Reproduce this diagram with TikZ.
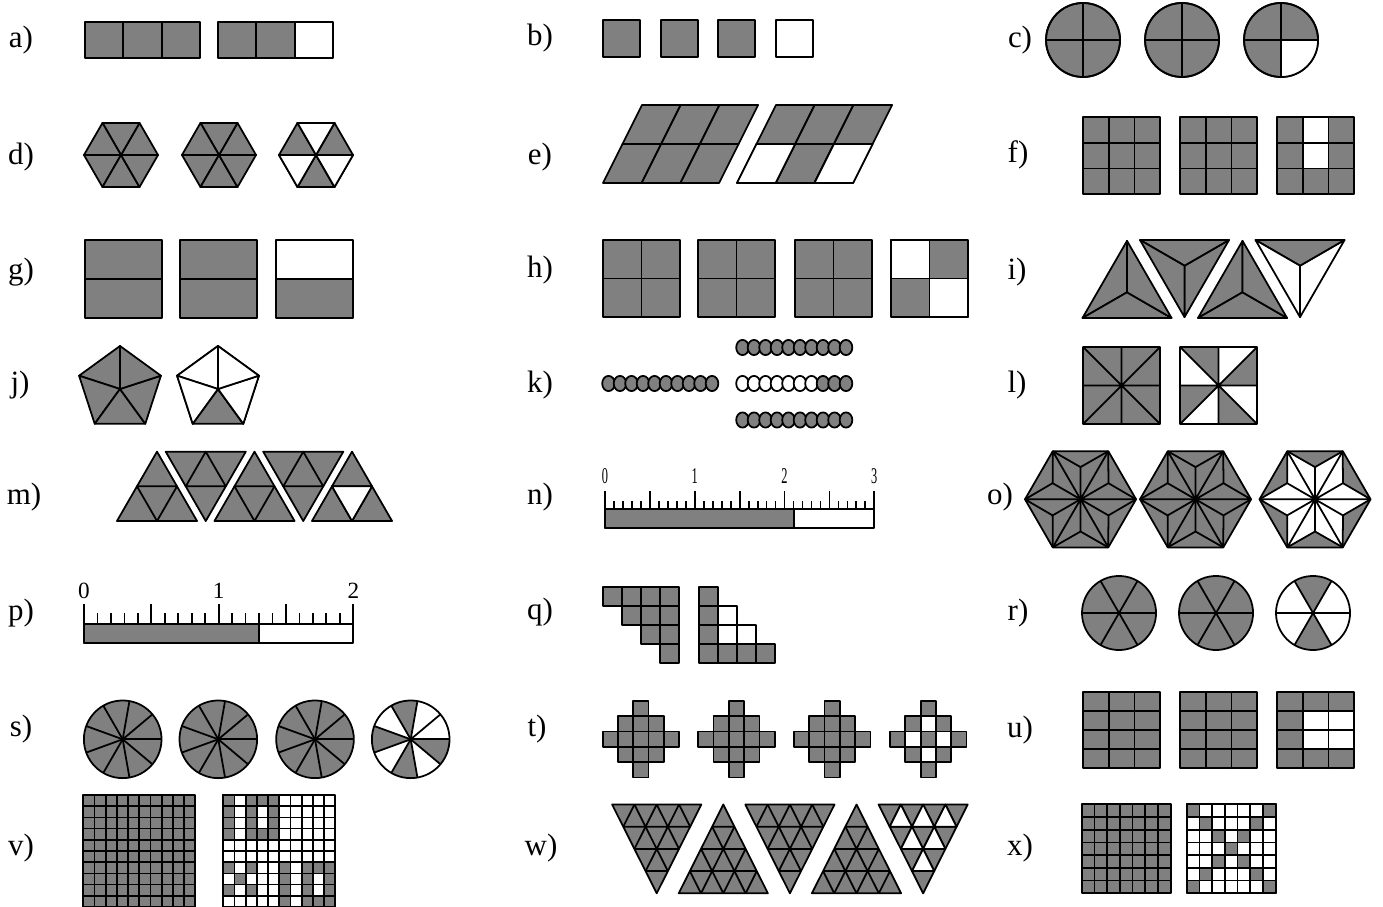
\documentclass[tikz,border=0pt]{standalone}
\usepackage{fontspec}
\setmainfont{Liberation Serif}
\usepackage{tikz}
\usetikzlibrary{calc}
\definecolor{midgray}{RGB}{128,128,128}
\tikzset{
  gr/.style={fill=midgray, draw=black},
  wt/.style={fill=white, draw=black},
  lab/.style={font=\fontsize{8.8}{10}\selectfont, inner sep=0pt},
  num/.style={inner sep=0pt},
}

\begin{document}
\begin{tikzpicture}[x=0.01cm, y=-0.01cm, line width=0.5pt, line join=round]
  \useasboundingbox (0,0) rectangle (1383,907);
  % labels
  \foreach \t/\px/\py in {a/21/40, d/21/157, g/21/272, j/20/385, m/24/497, p/21/613, s/21/729, v/21/848,
      b/540/38, e/540/157, h/540/270, k/540/385, n/540/497, q/540/612, t/537/729, w/541/848,
      c/1020/40, f/1018/155, i/1017/272, l/1017/385, o/1000/497, r/1018/613, u/1020/730, x/1020/848}
    \node[lab] (lab\t) at (\px,\py) {\t)};

  % a)
  \foreach \i in {0,1,2} \filldraw[gr] (85+38.33*\i,22) rectangle ++(38.33,36);
  \foreach \i/\s in {0/gr,1/gr,2/wt} \filldraw[\s] (218+38.33*\i,22) rectangle ++(38.33,36);

  % b)
  \foreach \px/\s in {603/gr,661/gr,718/gr,776/wt} \filldraw[\s] (\px,20) rectangle ++(37,37);

  % c)
  \foreach \cx in {1083,1182,1281} \filldraw[gr] (\cx,40) circle[radius=0.37cm];
  \fill[white] (1281,40) -- ++(0:0.37cm) arc[start angle=0, end angle=-90, radius=0.37cm] -- cycle;
  \foreach \cx in {1083,1182,1281}
    \draw (\cx,40) circle[radius=0.37cm] (\cx-37,40) -- (\cx+37,40) (\cx,3) -- (\cx,77);

  % d)
  \foreach \cx in {121,219,316} \foreach \a in {0,60,...,300}
    \filldraw[gr] (\cx,155) -- +(\a:0.37cm) -- +(\a+60:0.37cm) -- cycle;
  \foreach \a in {60,180,300}
    \filldraw[wt] (316,155) -- +(\a:0.37cm) -- +(\a+60:0.37cm) -- cycle;

  % e)
  \foreach \ox in {603,737} \foreach \i in {0,1,2} \foreach \j in {0,1}
    \filldraw[gr] (\ox+38.7*\i+19.5*\j,183-39*\j) -- ++(38.7,0) -- ++(19.5,-39) -- ++(-38.7,0) -- cycle;
  \foreach \i in {0,2}
    \filldraw[wt] (737+38.7*\i,183) -- ++(38.7,0) -- ++(19.5,-39) -- ++(-38.7,0) -- cycle;

  % f)
  \foreach \ox in {1083,1180,1277} \foreach \i in {0,1,2} \foreach \j in {0,1,2}
    \filldraw[gr] (\ox+25.7*\i,117+25.7*\j) rectangle ++(25.7,25.7);
  \foreach \j in {0,1} \filldraw[wt] (1277+25.7,117+25.7*\j) rectangle ++(25.7,25.7);

  % g)
  \foreach \ox/\s in {85/gr,180/gr,276/wt} {
    \filldraw[\s] (\ox,240) rectangle ++(77,39);
    \filldraw[gr] (\ox,279) rectangle ++(77,39);
  }

  % h)
  \foreach \ox in {603,698,795,891} \foreach \i in {0,1} \foreach \j in {0,1}
    \filldraw[gr] (\ox+38.5*\i,240+38.5*\j) rectangle ++(38.5,38.5);
  \filldraw[wt] (891,240) rectangle ++(38.5,38.5);
  \filldraw[wt] (929.5,278.5) rectangle ++(38.5,38.5);

  % i)
  \foreach \cx/\cy/\r in {1127/292.3/90, 1184.5/265.7/270, 1242.5/292.3/90}
    \foreach \a in {0,120,240}
      \filldraw[gr] (\cx,\cy) -- +(\r+\a:0.514cm) -- +(\r+\a+120:0.514cm) -- cycle;
  \foreach \a/\s in {0/wt,120/gr,240/wt}
    \filldraw[\s] (1300,265.7) -- +(270+\a:0.514cm) -- +(390+\a:0.514cm) -- cycle;

  % j)
  \foreach \cx in {120,218} \foreach \a in {90,162,...,378}
    \filldraw[gr] (\cx,389) -- +(\a:0.43cm) -- +(\a+72:0.43cm) -- cycle;
  \foreach \a in {90,162,306,378}
    \filldraw[wt] (218,389) -- +(\a:0.43cm) -- +(\a+72:0.43cm) -- cycle;

  % k)
  \foreach \i in {0,...,9} {
    \filldraw[gr] (608.5+11.5*\i,383.5) ellipse[x radius=0.063cm, y radius=0.076cm];
    \filldraw[gr] (742.5+11.5*\i,347.5) ellipse[x radius=0.063cm, y radius=0.076cm];
    \filldraw[gr] (742.5+11.5*\i,420) ellipse[x radius=0.063cm, y radius=0.076cm];
  }
  \foreach \i in {0,...,6}
    \filldraw[wt] (742.5+11.5*\i,383.5) ellipse[x radius=0.063cm, y radius=0.076cm];
  \foreach \i in {7,8,9}
    \filldraw[gr] (742.5+11.5*\i,383.5) ellipse[x radius=0.063cm, y radius=0.076cm];

  % l)
  \foreach \ox in {1083,1180} \fill[midgray] (\ox,347) rectangle ++(77,77);
  \foreach \ax/\ay/\bx/\by in {38.5/0/77/0, 77/38.5/77/77, 38.5/77/0/77, 0/38.5/0/0}
    \fill[white] (1218.5,385.5) -- (1180+\ax,347+\ay) -- (1180+\bx,347+\by) -- cycle;
  \foreach \ox in {1083,1180}
    \draw (\ox,347) rectangle ++(77,77) (\ox,347) -- ++(77,77) (\ox+77,347) -- ++(-77,77)
      (\ox+38.5,347) -- ++(0,77) (\ox,385.5) -- ++(77,0);

  % m)
  \foreach \cx/\cy/\r in {157/497.9/90, 205.75/474.8/270, 254.5/497.9/90, 303.25/474.8/270, 352/497.9/90} {
    \filldraw[gr] (\cx,\cy) +(\r:0.462cm) -- +(\r+120:0.462cm) -- +(\r+240:0.462cm) -- cycle;
    \draw (\cx,\cy) +(\r+180:0.231cm) -- +(\r+300:0.231cm) -- +(\r+60:0.231cm) -- cycle;
  }
  \filldraw[wt] (352,497.9) +(270:0.231cm) -- +(30:0.231cm) -- +(150:0.231cm) -- cycle;

  % n)
  \filldraw[gr] (605,509.3) rectangle (794,528.3);
  \draw (605,509.3) rectangle (874.3,528.3);
  \foreach \k in {0,...,30} {
    \pgfmathsetmacro\tl{mod(\k,5)==0 ? 18 : 8}
    \draw (605+8.977*\k,509.3) -- ++(0,-\tl);
  }
  \foreach \v in {0,1,2,3}
    \node[num, font=\fontsize{6.4}{7}\selectfont] (n\v) at (605+89.77*\v,476) {\scalebox{0.55}[1]{\v}};

  % p)
  \filldraw[gr] (84,624.3) rectangle (259,643.3);
  \draw (84,624.3) rectangle (353.3,643.3);
  \foreach \k in {0,...,20} {
    \pgfmathsetmacro\tl{mod(\k,5)==0 ? 20 : 11}
    \draw (84+13.465*\k,624.3) -- ++(0,-\tl);
  }
  \foreach \v in {0,1,2}
    \node[num, font=\fontsize{6.6}{7}\selectfont] (p\v) at (84+134.65*\v,591) {\v};

  % q)
  \foreach \r in {0,...,3} \foreach \c in {\r,...,3}
    \filldraw[gr] (602.7+19*\c,586.7+19*\r) rectangle ++(19,19);
  \foreach \c/\r/\s in {0/0/gr,0/1/gr,1/1/wt,0/2/gr,1/2/wt,2/2/wt,0/3/gr,1/3/gr,2/3/gr,3/3/gr}
    \filldraw[\s] (699+19*\c,586.7+19*\r) rectangle ++(19,19);

  % r)
  \foreach \cx in {1119,1216,1313} \fill[midgray] (\cx,613) circle[radius=0.37cm];
  \foreach \a in {0,120,180,300}
    \fill[white] (1313,613) -- ++(\a:0.37cm) arc[start angle=\a, end angle=\a+60, radius=0.37cm] -- cycle;
  \foreach \cx in {1119,1216,1313} {
    \draw (\cx,613) circle[radius=0.37cm];
    \foreach \a in {0,60,...,300} \draw (\cx,613) -- +(\a:0.37cm);
  }

  % s)
  \foreach \cx in {122.7,218.3,315,410.7} \fill[midgray] (\cx,739.3) circle[radius=0.388cm];
  \foreach \a in {0,40,120,200,280}
    \fill[white] (410.7,739.3) -- ++(\a:0.388cm) arc[start angle=\a, end angle=\a+40, radius=0.388cm] -- cycle;
  \foreach \cx in {122.7,218.3,315,410.7} {
    \draw (\cx,739.3) circle[radius=0.388cm];
    \foreach \a in {0,40,...,320} \draw (\cx,739.3) -- +(\a:0.388cm);
  }

  % t)
  \foreach \ox in {602.7,698.3,794,890}
    \foreach \c/\r in {2/0,1/1,2/1,3/1,0/2,1/2,2/2,3/2,4/2,1/3,2/3,3/3,2/4}
      \filldraw[gr] (\ox+15.3*\c,701+15.3*\r) rectangle ++(15.3,15.3);
  \foreach \c/\r in {2/1,1/2,3/2,2/3}
    \filldraw[wt] (890+15.3*\c,701+15.3*\r) rectangle ++(15.3,15.3);

  % u)
  \foreach \ox in {1083,1180,1277} \foreach \c in {0,1,2} \foreach \r in {0,...,3}
    \filldraw[gr] (\ox+25.7*\c,692+19*\r) rectangle ++(25.7,19);
  \foreach \c/\r in {1/1,2/1,1/2,2/2}
    \filldraw[wt] (1277+25.7*\c,692+19*\r) rectangle ++(25.7,19);

  % v)
  \foreach \c in {0,...,9} \foreach \r in {0,...,9} {
    \filldraw[gr] (83.3+11.2*\c,795+11.2*\r) rectangle ++(11.2,11.2);
    \filldraw[wt] (223.3+11.2*\c,795+11.2*\r) rectangle ++(11.2,11.2);
  }
  \foreach \c/\r in {0/0,2/0,3/0,4/0, 0/1,2/1,4/1, 0/2,2/2,4/2, 0/3,2/3,3/3,4/3,
      0/6,2/6,5/6,7/6,8/6,9/6, 1/7,5/7,7/7,9/7, 0/8,2/8,5/8,7/8,9/8, 5/9,7/9,8/9,9/9}
    \filldraw[gr] (223.3+11.2*\c,795+11.2*\r) rectangle ++(11.2,11.2);

  % w)
  \foreach \cx/\ay/\by in {656.7/893.3/804.5, 723.3/804.5/893.3, 789.9/893.3/804.5, 856.5/804.5/893.3, 923.1/893.3/804.5} {
    \coordinate (A) at (\cx,\ay);
    \coordinate (B) at (\cx-44.6,\by);
    \coordinate (C) at (\cx+44.6,\by);
    \filldraw[gr] (A) -- (B) -- (C) -- cycle;
    \foreach \k [evaluate=\k as \f using \k/4] in {1,2,3}
      \draw ($(A)!\f!(B)$) -- ($(A)!\f!(C)$) ($(B)!\f!(A)$) -- ($(B)!\f!(C)$) ($(C)!\f!(A)$) -- ($(C)!\f!(B)$);
  }
  \foreach \i/\j in {0/0,0/1,1/0,0/2,1/1,2/0}
    \filldraw[wt] ({923.1+11.15*(\j-\i-1)},{893.3-22.2*(\i+\j+1)}) -- ({923.1+11.15*(\j+1-\i)},{893.3-22.2*(\i+\j+1)})
      -- ({923.1+11.15*(\j-\i)},{893.3-22.2*(\i+\j+2)}) -- cycle;

  % x)
  \foreach \c in {0,...,6} \foreach \r in {0,...,6} {
    \filldraw[gr] (1081.7+12.7*\c,804.3+12.7*\r) rectangle ++(12.7,12.7);
    \filldraw[wt] (1186.7+12.7*\c,804.3+12.7*\r) rectangle ++(12.7,12.7);
  }
  \foreach \k in {0,...,6} {
    \filldraw[gr] (1186.7+12.7*\k,804.3+12.7*\k) rectangle ++(12.7,12.7);
    \filldraw[gr] (1186.7+12.7*\k,804.3+12.7*6-12.7*\k) rectangle ++(12.7,12.7);
  }

  % o)
  \foreach \cx in {1080.5,1195.5,1315}
    \filldraw[gr] (\cx,499.3) +(0:0.555cm) \foreach \a in {60,120,...,300} { -- +(\a:0.555cm) } -- cycle;
  \fill[white] (1315,499.3) +(0:0.555cm) \foreach \a in {0,60,...,300} { -- +(\a+30:0.322cm) -- +(\a+60:0.555cm) } -- cycle;
  \foreach \cx in {1080.5,1195.5,1315} \foreach \a in {0,60,...,300}
    \draw (\cx,499.3) -- +(\a:0.555cm) (\cx,499.3) -- +(\a+30:0.322cm)
      (\cx,499.3) +(\a:0.555cm) -- +(\a+30:0.322cm) -- +(\a+60:0.555cm);
\end{tikzpicture}
\end{document}
